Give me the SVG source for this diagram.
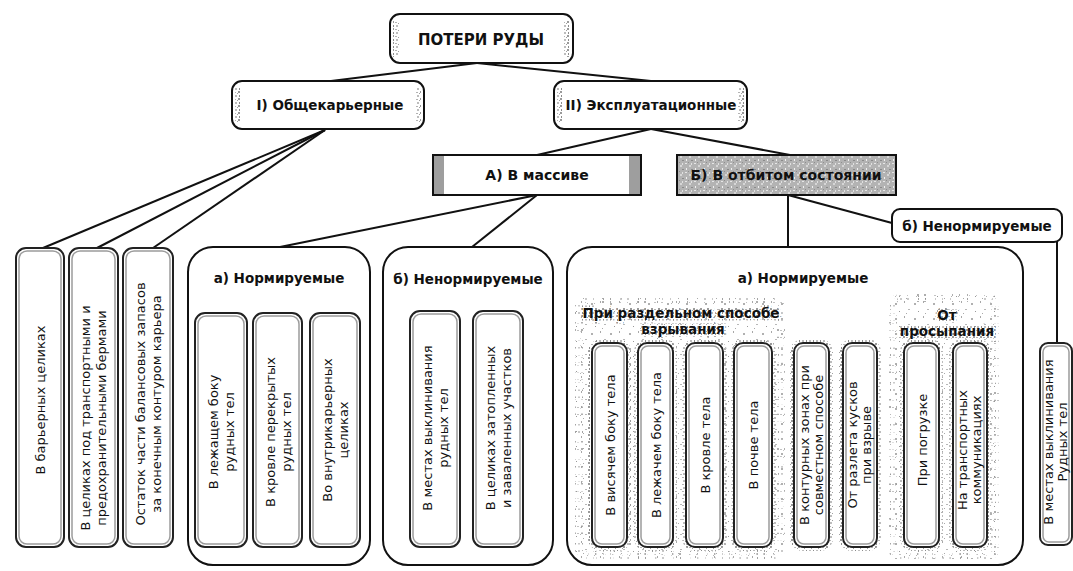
<svg xmlns="http://www.w3.org/2000/svg" width="1073" height="571" viewBox="0 0 1073 571">
<defs>
<pattern id="dense" width="7" height="7" patternUnits="userSpaceOnUse">
<rect x="0" y="0" width="2" height="2" fill="#9a9a9a"/>
<rect x="3" y="1" width="2" height="1" fill="#b3b3b3"/>
<rect x="1" y="4" width="1" height="2" fill="#8c8c8c"/>
<rect x="4" y="4" width="2" height="2" fill="#bdbdbd"/>
<rect x="6" y="2" width="1" height="1" fill="#a0a0a0"/>
</pattern>
<pattern id="sparse" width="19" height="15" patternUnits="userSpaceOnUse">
<rect x="2" y="3" width="2" height="2" fill="#b0b0b0"/>
<rect x="11" y="1" width="1" height="2" fill="#a8a8a8"/>
<rect x="15" y="9" width="2" height="1" fill="#b8b8b8"/>
<rect x="6" y="11" width="1" height="1" fill="#999"/>
<rect x="13" y="13" width="1" height="1" fill="#aaa"/>
</pattern>
<pattern id="grayfill" width="9" height="9" patternUnits="userSpaceOnUse">
<rect width="9" height="9" fill="#b3b3b3"/>
<rect x="1" y="1" width="2" height="1" fill="#e6e6e6"/>
<rect x="5" y="3" width="2" height="2" fill="#d6d6d6"/>
<rect x="2" y="6" width="1" height="2" fill="#f0f0f0"/>
<rect x="7" y="7" width="2" height="1" fill="#8a8a8a"/>
<rect x="4" y="0" width="1" height="1" fill="#8f8f8f"/>
<rect x="7" y="1" width="1" height="2" fill="#e0e0e0"/>
</pattern>
<style>
text{font-family:"DejaVu Sans","Liberation Sans",sans-serif;fill:#111}
.h{font-weight:bold;text-anchor:middle}
.v{font-size:13px;text-anchor:middle}
.frame{fill:#fff;stroke:#111;stroke-width:2}
.cont{fill:none;stroke:#111;stroke-width:2}
.col{fill:#fff;stroke:#222;stroke-width:2}
.ring{fill:none;stroke:#9c9c9c;stroke-width:1.5}
.halo{fill:none;stroke:url(#dense);stroke-width:8}
.edge{fill:url(#dense)}
.lbl{stroke:url(#dense);stroke-width:5;paint-order:stroke}
#connectors path{fill:none;stroke:#111;stroke-width:2}
</style>
</defs>
<rect width="1073" height="571" fill="#fff"/>

<g id="connectors">
<path d="M477,63 L331,81"/>
<path d="M477,63 L651,81"/>
<path d="M325,130 L43,248"/>
<path d="M325,130 L97,248"/>
<path d="M325,130 L153,248"/>
<path d="M651,129 L537,155"/>
<path d="M651,129 L790,155"/>
<path d="M537,195 L280,247"/>
<path d="M537,195 L472,247"/>
<path d="M788,195 L788,247"/>
<path d="M788,195 L892,223"/>
<path d="M1057,242 L1057,343"/>
</g>

<g id="n-root">
<rect class="frame" x="390" y="14" width="183" height="49" rx="10"/>
<rect class="edge" x="393" y="20" width="6" height="37"/>
<rect class="edge" x="564" y="20" width="6" height="37"/>
<text class="h" x="481" y="45" font-size="15">ПОТЕРИ РУДЫ</text>
</g>

<g id="n-obsh">
<rect class="frame" x="232" y="81" width="192" height="48" rx="10"/>
<rect class="edge" x="235" y="87" width="6" height="36"/>
<rect class="edge" x="415" y="87" width="6" height="36"/>
<text class="h" x="330" y="110" font-size="13.5">I) Общекарьерные</text>
</g>

<g id="n-expl">
<rect class="frame" x="554" y="81" width="193" height="48" rx="10"/>
<rect class="edge" x="557" y="87" width="6" height="36"/>
<rect class="edge" x="738" y="87" width="6" height="36"/>
<text class="h" x="651" y="110" font-size="13.5">II) Эксплуатационные</text>
</g>

<g id="n-massiv">
<rect class="frame" x="433" y="155" width="208" height="40"/>
<rect x="434" y="156" width="10" height="38" fill="#9e9e9e"/>
<rect x="629" y="156" width="11" height="38" fill="#9e9e9e"/>
<text class="h" x="537" y="180" font-size="14">А) В массиве</text>
</g>

<g id="n-otbit">
<rect x="677" y="155" width="219" height="40" fill="url(#grayfill)" stroke="#111" stroke-width="2"/>
<text class="h" x="786" y="180" font-size="14">Б) В отбитом состоянии</text>
</g>

<g id="n-nenorm2">
<rect class="frame" x="892" y="209" width="170" height="33" rx="8"/>
<text class="h" x="977" y="231" font-size="13.5">б) Ненормируемые</text>
</g>

<g id="n-barier">
<rect class="col" x="16" y="248" width="48" height="299" rx="10"/>
<rect class="ring" x="19" y="251" width="42" height="293" rx="8"/>
<text class="v" transform="translate(40,400) rotate(-90)" y="5">В барьерных целиках</text>
</g>

<g id="n-bermy">
<rect class="col" x="69" y="248" width="49" height="299" rx="10"/>
<rect class="ring" x="72" y="251" width="43" height="293" rx="8"/>
<text class="v" transform="translate(93,418) rotate(-90)"><tspan x="0" y="-3">В целиках под транспортными и</tspan><tspan x="0" y="13">предохранительными бермами</tspan></text>
</g>

<g id="n-ostatok">
<rect class="col" x="123" y="248" width="50" height="299" rx="10"/>
<rect class="ring" x="126" y="251" width="44" height="293" rx="8"/>
<text class="v" transform="translate(148,404) rotate(-90)"><tspan x="0" y="-3">Остаток части балансовых запасов</tspan><tspan x="0" y="13">за конечным контуром карьера</tspan></text>
</g>

<g id="n-norm1">
<rect class="cont" x="188" y="247" width="182" height="318" rx="25"/>
<text class="h" x="279" y="283" font-size="13.5">а) Нормируемые</text>
</g>

<g id="n-lezh">
<rect class="col" x="195" y="313" width="52" height="234" rx="10"/>
<rect class="ring" x="198" y="316" width="46" height="228" rx="8"/>
<text class="v" transform="translate(221,432) rotate(-90)"><tspan x="0" y="-3">В лежащем боку</tspan><tspan x="0" y="13">рудных тел</tspan></text>
</g>

<g id="n-krovl">
<rect class="col" x="253" y="313" width="49" height="234" rx="10"/>
<rect class="ring" x="256" y="316" width="43" height="228" rx="8"/>
<text class="v" transform="translate(278,432) rotate(-90)"><tspan x="0" y="-3">В кровле перекрытых</tspan><tspan x="0" y="13">рудных тел</tspan></text>
</g>

<g id="n-vnutr">
<rect class="col" x="310" y="313" width="50" height="234" rx="10"/>
<rect class="ring" x="313" y="316" width="44" height="228" rx="8"/>
<text class="v" transform="translate(335,430) rotate(-90)"><tspan x="0" y="-3">Во внутрикарьерных</tspan><tspan x="0" y="13">целиках</tspan></text>
</g>

<g id="n-nenorm1">
<rect class="cont" x="383" y="247" width="170" height="318" rx="25"/>
<text class="h" x="468" y="284" font-size="13.5">б) Ненормируемые</text>
</g>

<g id="n-vykl1">
<rect class="col" x="410" y="311" width="50" height="236" rx="10"/>
<rect class="ring" x="413" y="314" width="44" height="230" rx="8"/>
<text class="v" transform="translate(435,428) rotate(-90)"><tspan x="0" y="-3">В местах выклинивания</tspan><tspan x="0" y="13">рудных тел</tspan></text>
</g>

<g id="n-zatopl">
<rect class="col" x="473" y="311" width="50" height="236" rx="10"/>
<rect class="ring" x="476" y="314" width="44" height="230" rx="8"/>
<text class="v" transform="translate(498,428) rotate(-90)"><tspan x="0" y="-3">В целиках затопленных</tspan><tspan x="0" y="13">и заваленных участков</tspan></text>
</g>

<g id="n-norm2">
<rect class="cont" x="567" y="247" width="456" height="318" rx="25"/>
<text class="h" x="803" y="283" font-size="13.5">а) Нормируемые</text>
</g>

<g id="n-razd">
<rect x="576" y="298" width="208" height="260" fill="url(#sparse)"/>
<rect class="halo" x="579" y="301" width="202" height="254" rx="6" stroke-dasharray="3 5 2 7" opacity="0.8"/>
<text class="h lbl" x="681" y="318" font-size="13.5">При раздельном способе</text>
<text class="h lbl" x="683" y="334" font-size="13.5">взрывания</text>
</g>

<g id="n-visyach">
<rect class="halo" x="592" y="343" width="35" height="204" rx="9"/>
<rect class="col" x="592" y="343" width="35" height="204" rx="9"/>
<rect class="ring" x="595" y="346" width="29" height="198" rx="7"/>
<text class="v" transform="translate(610,445) rotate(-90)" y="5">В висячем боку тела</text>
</g>

<g id="n-lezhach">
<rect class="halo" x="638" y="343" width="35" height="204" rx="9"/>
<rect class="col" x="638" y="343" width="35" height="204" rx="9"/>
<rect class="ring" x="641" y="346" width="29" height="198" rx="7"/>
<text class="v" transform="translate(656,445) rotate(-90)" y="5">В лежачем боку тела</text>
</g>

<g id="n-krovlt">
<rect class="halo" x="686" y="343" width="37" height="204" rx="9"/>
<rect class="col" x="686" y="343" width="37" height="204" rx="9"/>
<rect class="ring" x="689" y="346" width="31" height="198" rx="7"/>
<text class="v" transform="translate(705,445) rotate(-90)" y="5">В кровле тела</text>
</g>

<g id="n-pochva">
<rect class="halo" x="734" y="343" width="38" height="204" rx="9"/>
<rect class="col" x="734" y="343" width="38" height="204" rx="9"/>
<rect class="ring" x="737" y="346" width="32" height="198" rx="7"/>
<text class="v" transform="translate(753,445) rotate(-90)" y="5">В почве тела</text>
</g>

<g id="n-kontur">
<rect class="halo" x="794" y="343" width="35" height="204" rx="9"/>
<rect class="col" x="794" y="343" width="35" height="204" rx="9"/>
<rect class="ring" x="797" y="346" width="29" height="198" rx="7"/>
<text class="v" font-size="12.5" transform="translate(812,445) rotate(-90)"><tspan x="0" y="-3">В контурных зонах при</tspan><tspan x="0" y="11">совместном способе</tspan></text>
</g>

<g id="n-razlet">
<rect class="halo" x="843" y="343" width="34" height="204" rx="9"/>
<rect class="col" x="843" y="343" width="34" height="204" rx="9"/>
<rect class="ring" x="846" y="346" width="28" height="198" rx="7"/>
<text class="v" font-size="12.5" transform="translate(860,445) rotate(-90)"><tspan x="0" y="-3">От разлета кусков</tspan><tspan x="0" y="11">при взрыве</tspan></text>
</g>

<g id="n-prosyp">
<rect x="890" y="295" width="108" height="264" fill="url(#sparse)"/>
<rect class="halo" x="893" y="298" width="102" height="258" rx="6" stroke-dasharray="3 5 2 7" opacity="0.8"/>
<text class="h lbl" x="947" y="320" font-size="13.5">От</text>
<text class="h lbl" x="947" y="336" font-size="13.5">просыпания</text>
</g>

<g id="n-pogruz">
<rect class="halo" x="904" y="343" width="35" height="204" rx="9"/>
<rect class="col" x="904" y="343" width="35" height="204" rx="9"/>
<rect class="ring" x="907" y="346" width="29" height="198" rx="7"/>
<text class="v" transform="translate(922,440) rotate(-90)" y="5">При погрузке</text>
</g>

<g id="n-transp">
<rect class="halo" x="953" y="343" width="34" height="204" rx="9"/>
<rect class="col" x="953" y="343" width="34" height="204" rx="9"/>
<rect class="ring" x="956" y="346" width="28" height="198" rx="7"/>
<text class="v" font-size="12.5" transform="translate(970,450) rotate(-90)"><tspan x="0" y="-3">На транспортных</tspan><tspan x="0" y="11">коммуникациях</tspan></text>
</g>

<g id="n-vykl2">
<rect class="col" x="1040" y="343" width="32" height="202" rx="8"/>
<rect class="ring" x="1043" y="346" width="26" height="196" rx="6"/>
<text class="v" font-size="12.5" transform="translate(1056,442) rotate(-90)"><tspan x="0" y="-3">В местах выклинивания</tspan><tspan x="0" y="11">Рудных тел</tspan></text>
</g>
</svg>
